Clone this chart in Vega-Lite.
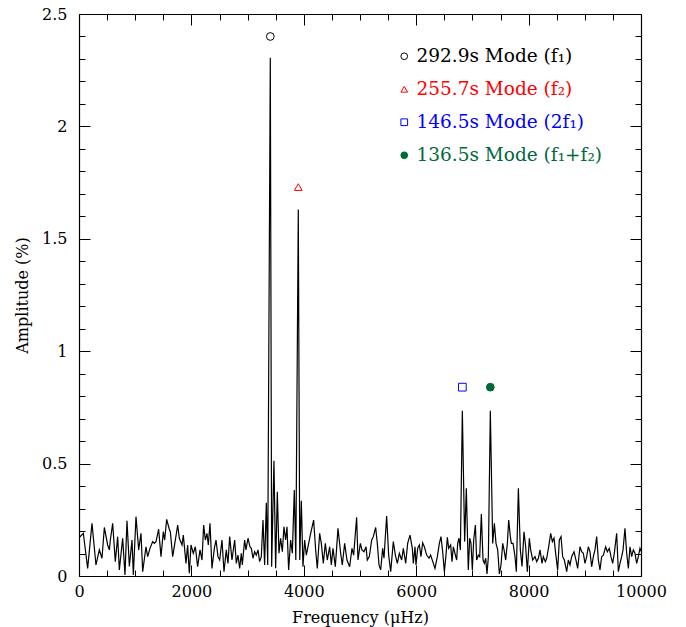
{
  "$schema": "https://vega.github.io/schema/vega-lite/v6.json",
  "width": 562,
  "height": 562,
  "autosize": {"type": "none"},
  "padding": {"left": 79, "top": 14, "right": 45, "bottom": 51},
  "background": "white",
  "datasets": {
    "spectrum": [
      {"freq":0,"amp":0.17},{"freq":77,"amp":0.19},{"freq":154,"amp":0.034},{"freq":231,"amp":0.234},{"freq":302,"amp":0.049},{"freq":362,"amp":0.116},{"freq":409,"amp":0.079},{"freq":451,"amp":0.216},{"freq":510,"amp":0.138},{"freq":540,"amp":0.116},{"freq":558,"amp":0.16},{"freq":599,"amp":0.234},{"freq":646,"amp":0.064},{"freq":688,"amp":0.175},{"freq":718,"amp":0.027},{"freq":777,"amp":0.168},{"freq":818,"amp":0.005},{"freq":854,"amp":0.246},{"freq":896,"amp":0.042},{"freq":943,"amp":0.16},{"freq":967,"amp":0.005},{"freq":1014,"amp":0.264},{"freq":1062,"amp":0.116},{"freq":1103,"amp":0.19},{"freq":1133,"amp":0.019},{"freq":1192,"amp":0.13},{"freq":1222,"amp":0.086},{"freq":1263,"amp":0.123},{"freq":1311,"amp":0.153},{"freq":1340,"amp":0.145},{"freq":1370,"amp":0.153},{"freq":1417,"amp":0.208},{"freq":1459,"amp":0.086},{"freq":1500,"amp":0.197},{"freq":1524,"amp":0.16},{"freq":1560,"amp":0.252},{"freq":1607,"amp":0.208},{"freq":1625,"amp":0.197},{"freq":1667,"amp":0.086},{"freq":1714,"amp":0.16},{"freq":1756,"amp":0.227},{"freq":1785,"amp":0.168},{"freq":1833,"amp":0.138},{"freq":1856,"amp":0.182},{"freq":1904,"amp":0.056},{"freq":1933,"amp":0.138},{"freq":1963,"amp":0.012},{"freq":1993,"amp":0.138},{"freq":2034,"amp":0.101},{"freq":2070,"amp":0.13},{"freq":2111,"amp":0.042},{"freq":2153,"amp":0.116},{"freq":2189,"amp":0.071},{"freq":2218,"amp":0.227},{"freq":2248,"amp":0.16},{"freq":2277,"amp":0.19},{"freq":2301,"amp":0.138},{"freq":2331,"amp":0.234},{"freq":2366,"amp":0.034},{"freq":2408,"amp":0.123},{"freq":2438,"amp":0.16},{"freq":2473,"amp":0.086},{"freq":2503,"amp":0.071},{"freq":2544,"amp":0.16},{"freq":2580,"amp":0.019},{"freq":2621,"amp":0.116},{"freq":2651,"amp":0.056},{"freq":2681,"amp":0.175},{"freq":2722,"amp":0.071},{"freq":2770,"amp":0.16},{"freq":2799,"amp":0.056},{"freq":2829,"amp":0.093},{"freq":2859,"amp":0.034},{"freq":2888,"amp":0.101},{"freq":2906,"amp":0.049},{"freq":2947,"amp":0.16},{"freq":2971,"amp":0.116},{"freq":3007,"amp":0.168},{"freq":3042,"amp":0.13},{"freq":3066,"amp":0.123},{"freq":3096,"amp":0.079},{"freq":3125,"amp":0.108},{"freq":3155,"amp":0.093},{"freq":3185,"amp":0.116},{"freq":3214,"amp":0.064},{"freq":3244,"amp":0.086},{"freq":3274,"amp":0.249},{"freq":3303,"amp":0.049},{"freq":3333,"amp":0.326},{"freq":3358,"amp":0.049},{"freq":3404,"amp":2.305},{"freq":3428,"amp":0.041},{"freq":3469,"amp":0.513},{"freq":3499,"amp":0.034},{"freq":3529,"amp":0.375},{"freq":3558,"amp":0.101},{"freq":3588,"amp":0.168},{"freq":3618,"amp":0.108},{"freq":3647,"amp":0.219},{"freq":3677,"amp":0.16},{"freq":3701,"amp":0.219},{"freq":3730,"amp":0.027},{"freq":3766,"amp":0.16},{"freq":3796,"amp":0.101},{"freq":3831,"amp":0.383},{"freq":3858,"amp":0.071},{"freq":3902,"amp":1.63},{"freq":3928,"amp":0.071},{"freq":3956,"amp":0.335},{"freq":3985,"amp":0.041},{"freq":4015,"amp":0.16},{"freq":4045,"amp":0.093},{"freq":4074,"amp":0.13},{"freq":4122,"amp":0.19},{"freq":4175,"amp":0.249},{"freq":4211,"amp":0.116},{"freq":4240,"amp":0.034},{"freq":4282,"amp":0.19},{"freq":4312,"amp":0.145},{"freq":4347,"amp":0.056},{"freq":4383,"amp":0.145},{"freq":4418,"amp":0.071},{"freq":4460,"amp":0.13},{"freq":4490,"amp":0.049},{"freq":4519,"amp":0.123},{"freq":4561,"amp":0.041},{"freq":4608,"amp":0.212},{"freq":4656,"amp":0.101},{"freq":4685,"amp":0.049},{"freq":4727,"amp":0.145},{"freq":4768,"amp":0.071},{"freq":4816,"amp":0.041},{"freq":4857,"amp":0.123},{"freq":4887,"amp":0.093},{"freq":4940,"amp":0.261},{"freq":4964,"amp":0.071},{"freq":5006,"amp":0.145},{"freq":5035,"amp":0.116},{"freq":5071,"amp":0.108},{"freq":5107,"amp":0.13},{"freq":5130,"amp":0.071},{"freq":5166,"amp":0.086},{"freq":5208,"amp":0.16},{"freq":5237,"amp":0.175},{"freq":5279,"amp":0.216},{"freq":5308,"amp":0.145},{"freq":5338,"amp":0.049},{"freq":5368,"amp":0.027},{"freq":5403,"amp":0.123},{"freq":5427,"amp":0.079},{"freq":5474,"amp":0.267},{"freq":5510,"amp":0.093},{"freq":5546,"amp":0.019},{"freq":5593,"amp":0.153},{"freq":5629,"amp":0.093},{"freq":5664,"amp":0.056},{"freq":5700,"amp":0.101},{"freq":5741,"amp":0.071},{"freq":5771,"amp":0.123},{"freq":5813,"amp":0.056},{"freq":5848,"amp":0.145},{"freq":5890,"amp":0.182},{"freq":5931,"amp":0.123},{"freq":5949,"amp":0.056},{"freq":5979,"amp":0.13},{"freq":5996,"amp":0.049},{"freq":6026,"amp":0.123},{"freq":6056,"amp":0.138},{"freq":6085,"amp":0.086},{"freq":6115,"amp":0.148},{"freq":6145,"amp":0.13},{"freq":6186,"amp":0.093},{"freq":6228,"amp":0.079},{"freq":6257,"amp":0.093},{"freq":6305,"amp":0.056},{"freq":6334,"amp":0.034},{"freq":6376,"amp":0.086},{"freq":6412,"amp":0.145},{"freq":6441,"amp":0.175},{"freq":6471,"amp":0.108},{"freq":6501,"amp":0.019},{"freq":6530,"amp":0.093},{"freq":6554,"amp":0.172},{"freq":6578,"amp":0.123},{"freq":6613,"amp":0.138},{"freq":6637,"amp":0.064},{"freq":6661,"amp":0.13},{"freq":6690,"amp":0.101},{"freq":6720,"amp":0.071},{"freq":6738,"amp":0.145},{"freq":6762,"amp":0.168},{"freq":6786,"amp":0.116},{"freq":6821,"amp":0.735},{"freq":6862,"amp":0.153},{"freq":6892,"amp":0.39},{"freq":6927,"amp":0.027},{"freq":6952,"amp":0.168},{"freq":6975,"amp":0.145},{"freq":6999,"amp":0.027},{"freq":7023,"amp":0.16},{"freq":7053,"amp":0.227},{"freq":7076,"amp":0.071},{"freq":7106,"amp":0.093},{"freq":7130,"amp":0.086},{"freq":7159,"amp":0.276},{"freq":7189,"amp":0.071},{"freq":7213,"amp":0.056},{"freq":7236,"amp":0.079},{"freq":7260,"amp":0.009},{"freq":7284,"amp":0.086},{"freq":7319,"amp":0.735},{"freq":7361,"amp":0.145},{"freq":7391,"amp":0.234},{"freq":7420,"amp":0.145},{"freq":7450,"amp":0.116},{"freq":7480,"amp":0.009},{"freq":7509,"amp":0.049},{"freq":7539,"amp":0.145},{"freq":7563,"amp":0.116},{"freq":7592,"amp":0.071},{"freq":7622,"amp":0.145},{"freq":7646,"amp":0.249},{"freq":7675,"amp":0.175},{"freq":7693,"amp":0.145},{"freq":7723,"amp":0.145},{"freq":7758,"amp":0.086},{"freq":7782,"amp":0.019},{"freq":7818,"amp":0.39},{"freq":7853,"amp":0.116},{"freq":7883,"amp":0.042},{"freq":7918,"amp":0.197},{"freq":7948,"amp":0.13},{"freq":7978,"amp":0.019},{"freq":8013,"amp":0.168},{"freq":8037,"amp":0.116},{"freq":8073,"amp":0.071},{"freq":8114,"amp":0.086},{"freq":8144,"amp":0.064},{"freq":8174,"amp":0.079},{"freq":8203,"amp":0.116},{"freq":8239,"amp":0.056},{"freq":8262,"amp":0.086},{"freq":8298,"amp":0.064},{"freq":8322,"amp":0.079},{"freq":8357,"amp":0.13},{"freq":8393,"amp":0.19},{"freq":8423,"amp":0.153},{"freq":8452,"amp":0.168},{"freq":8488,"amp":0.086},{"freq":8517,"amp":0.027},{"freq":8547,"amp":0.16},{"freq":8577,"amp":0.175},{"freq":8606,"amp":0.086},{"freq":8636,"amp":0.071},{"freq":8678,"amp":0.019},{"freq":8707,"amp":0.071},{"freq":8737,"amp":0.049},{"freq":8766,"amp":0.086},{"freq":8808,"amp":0.108},{"freq":8843,"amp":0.071},{"freq":8873,"amp":0.034},{"freq":8914,"amp":0.13},{"freq":8944,"amp":0.108},{"freq":8974,"amp":0.101},{"freq":9003,"amp":0.056},{"freq":9033,"amp":0.086},{"freq":9063,"amp":0.13},{"freq":9092,"amp":0.108},{"freq":9122,"amp":0.041},{"freq":9152,"amp":0.086},{"freq":9181,"amp":0.116},{"freq":9211,"amp":0.175},{"freq":9241,"amp":0.071},{"freq":9270,"amp":0.027},{"freq":9300,"amp":0.086},{"freq":9330,"amp":0.093},{"freq":9371,"amp":0.13},{"freq":9401,"amp":0.108},{"freq":9436,"amp":0.123},{"freq":9466,"amp":0.086},{"freq":9496,"amp":0.056},{"freq":9525,"amp":0.101},{"freq":9567,"amp":0.19},{"freq":9597,"amp":0.019},{"freq":9626,"amp":0.056},{"freq":9656,"amp":0.086},{"freq":9680,"amp":0.116},{"freq":9715,"amp":0.212},{"freq":9745,"amp":0.101},{"freq":9775,"amp":0.034},{"freq":9804,"amp":0.13},{"freq":9834,"amp":0.086},{"freq":9863,"amp":0.116},{"freq":9893,"amp":0.101},{"freq":9923,"amp":0.056},{"freq":9952,"amp":0.086},{"freq":9982,"amp":0.123},{"freq":10000,"amp":0.11}
    ],
    "modes": [
      {"freq":3404,"amp":2.40,"mode":"292.9s Mode (f₁)"},
      {"freq":3902,"amp":1.73,"mode":"255.7s Mode (f₂)"},
      {"freq":6821,"amp":0.84,"mode":"146.5s Mode (2f₁)"},
      {"freq":7319,"amp":0.84,"mode":"136.5s Mode (f₁+f₂)"}
    ]
  },
  "layer": [
    {
      "data": {"name": "spectrum"},
      "mark": {"type": "line", "color": "black", "strokeWidth": 1.2, "clip": true},
      "encoding": {
        "x": {
          "field": "freq", "type": "quantitative",
          "scale": {"domain": [0, 10000], "nice": false, "zero": false},
          "axis": {
            "orient": "bottom",
            "values": [0,500,1000,1500,2000,2500,3000,3500,4000,4500,5000,5500,6000,6500,7000,7500,8000,8500,9000,9500,10000],
            "labelExpr": "datum.value % 2000 === 0 ? format(datum.value, 'd') : ''",
            "tickSize": {"condition": {"test": "datum.value % 2000 === 0", "value": -11}, "value": -6},
            "labelPadding": 18,
            "title": "Frequency (μHz)",
            "titlePadding": 5
          }
        },
        "y": {
          "field": "amp", "type": "quantitative",
          "scale": {"domain": [0, 2.5], "nice": false, "zero": false},
          "axis": {
            "orient": "left",
            "values": [0,0.1,0.2,0.3,0.4,0.5,0.6,0.7,0.8,0.9,1,1.1,1.2,1.3,1.4,1.5,1.6,1.7,1.8,1.9,2,2.1,2.2,2.3,2.4,2.5],
            "labelExpr": "round(datum.value*10) % 5 === 0 ? format(datum.value, '~g') : ''",
            "tickSize": {"condition": {"test": "round(datum.value*10) % 5 === 0", "value": -11}, "value": -6},
            "labelPadding": 23,
            "title": "Amplitude (%)",
            "titlePadding": 11
          }
        }
      }
    },
    {
      "data": {"name": "modes"},
      "mark": {"type": "point", "size": 60, "strokeWidth": 1, "opacity": 1},
      "encoding": {
        "x": {
          "field": "freq", "type": "quantitative",
          "scale": {"domain": [0, 10000], "nice": false, "zero": false},
          "axis": {
            "orient": "top",
            "values": [0,500,1000,1500,2000,2500,3000,3500,4000,4500,5000,5500,6000,6500,7000,7500,8000,8500,9000,9500,10000],
            "labels": false,
            "tickSize": {"condition": {"test": "datum.value % 2000 === 0", "value": -11}, "value": -6},
            "title": null
          }
        },
        "y": {
          "field": "amp", "type": "quantitative",
          "scale": {"domain": [0, 2.5], "nice": false, "zero": false},
          "axis": {
            "orient": "right",
            "values": [0,0.1,0.2,0.3,0.4,0.5,0.6,0.7,0.8,0.9,1,1.1,1.2,1.3,1.4,1.5,1.6,1.7,1.8,1.9,2,2.1,2.2,2.3,2.4,2.5],
            "labels": false,
            "tickSize": {"condition": {"test": "round(datum.value*10) % 5 === 0", "value": -11}, "value": -6},
            "title": null
          }
        },
        "shape": {
          "field": "mode", "type": "nominal",
          "scale": {"domain": ["292.9s Mode (f₁)", "255.7s Mode (f₂)", "146.5s Mode (2f₁)", "136.5s Mode (f₁+f₂)"], "range": ["circle", "triangle-up", "square", "circle"]},
          "legend": {"title": null, "orient": "none", "legendX": 316, "legendY": 33, "symbolSize": 45, "symbolStrokeWidth": 1, "labelFont": "DejaVu Serif", "labelFontSize": 18.5, "labelOffset": 3, "rowPadding": 14, "padding": 0, "labelLimit": 300, "labelColor": {"expr": "['#000000', '#ff0000', '#0000ff', '#00693a'][datum.index]"}}
        },
        "stroke": {
          "field": "mode", "type": "nominal",
          "scale": {"domain": ["292.9s Mode (f₁)", "255.7s Mode (f₂)", "146.5s Mode (2f₁)", "136.5s Mode (f₁+f₂)"], "range": ["#000000", "#ff0000", "#0000ff", "#00693a"]},
          "legend": {"title": null, "orient": "none", "legendX": 316, "legendY": 33, "symbolSize": 45, "symbolStrokeWidth": 1, "labelFont": "DejaVu Serif", "labelFontSize": 18.5, "labelOffset": 3, "rowPadding": 14, "padding": 0, "labelLimit": 300, "labelColor": {"expr": "['#000000', '#ff0000', '#0000ff', '#00693a'][datum.index]"}}
        },
        "fill": {
          "field": "mode", "type": "nominal",
          "scale": {"domain": ["292.9s Mode (f₁)", "255.7s Mode (f₂)", "146.5s Mode (2f₁)", "136.5s Mode (f₁+f₂)"], "range": ["transparent", "transparent", "transparent", "#00693a"]},
          "legend": {"title": null, "orient": "none", "legendX": 316, "legendY": 33, "symbolSize": 45, "symbolStrokeWidth": 1, "labelFont": "DejaVu Serif", "labelFontSize": 18.5, "labelOffset": 3, "rowPadding": 14, "padding": 0, "labelLimit": 300, "labelColor": {"expr": "['#000000', '#ff0000', '#0000ff', '#00693a'][datum.index]"}}
        }
      }
    }
  ],
  "resolve": {"axis": {"x": "independent", "y": "independent"}},
  "config": {
    "view": {"stroke": null},
    "axis": {
      "grid": false,
      "domain": true,
      "domainColor": "black",
      "domainWidth": 1.2,
      "tickColor": "black",
      "tickWidth": 1,
      "labelFont": "DejaVu Serif",
      "labelFontSize": 16,
      "labelColor": "black",
      "labelFlush": false,
      "labelOverlap": false,
      "titleFont": "DejaVu Serif",
      "titleFontSize": 16,
      "titleFontWeight": "normal",
      "titleColor": "black"
    }
  }
}
